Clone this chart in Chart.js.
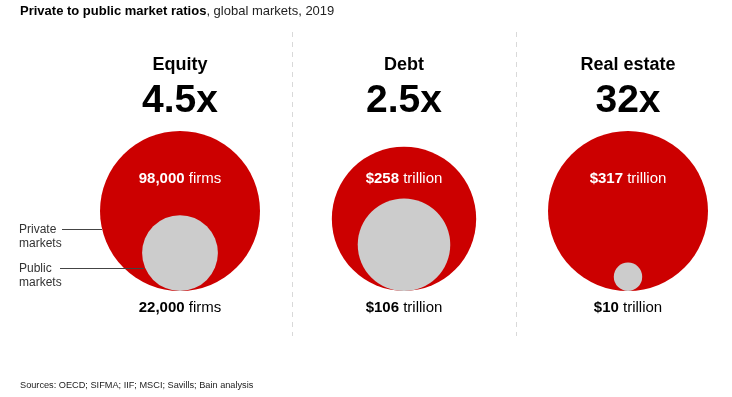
<!DOCTYPE html>
<html>
  <head>
    <title>Private to public market ratios</title>
    <script src="https://cdn.jsdelivr.net/npm/chart.js@4.4.1/dist/chart.umd.min.js"></script>
    <style>
      body { margin: 0; background: #fff; }
      #wrap { width: 732px; height: 397px; }
    </style>
  </head>
  <body>
    <div id="wrap"><canvas id="myChart"></canvas></div>
  </body>
  <script>
    const categories = ['Equity', 'Debt', 'Real estate']
    const ratioLabels = ['4.5x', '2.5x', '32x']
    const privateValues = [98000, 258, 317]
    const publicValues = [22000, 106, 10]
    const valuePrefix = ['', '$', '$']
    const valueUnits = ['firms', 'trillion', 'trillion']
    // value drawn at full radius in each panel (equity counts firms, others are $ trillion)
    const fullSizeValue = [98000, 317, 317]

    const RED = '#cc0000'
    const GREY = '#cccccc'
    const FONT = '"Liberation Sans", Arial, sans-serif'

    // panel centres are 2.8 radius-units apart; circles sit on y = 0
    const panelX = categories.map((c, i) => i * 2.8)
    const rel = (v, i) => Math.sqrt(v / fullSizeValue[i])

    const privatePoints = privateValues.map((v, i) => ({ x: panelX[i], y: rel(v, i), r: rel(v, i) }))
    const publicPoints = publicValues.map((v, i) => ({ x: panelX[i], y: rel(v, i), r: rel(v, i) }))

    // radius given in axis units, converted through the x scale
    const radiusFromScale = (ctx) => {
      const s = ctx.chart.scales.x
      const p = ctx.raw
      if (!s || !p) return 0
      return Math.abs(s.getPixelForValue(p.r) - s.getPixelForValue(0))
    }

    function fmt(n) {
      return n.toLocaleString('en-US')
    }

    function mixedText(ctx, parts, x, y, size) {
      // parts: [[text, bold], ...] centred on x
      let total = 0
      const widths = parts.map(([t, b]) => {
        ctx.font = (b ? 'bold ' : '') + size + 'px ' + FONT
        const w = ctx.measureText(t).width
        total += w
        return w
      })
      let cx = x - total / 2
      ctx.textAlign = 'left'
      parts.forEach(([t, b], i) => {
        ctx.font = (b ? 'bold ' : '') + size + 'px ' + FONT
        ctx.fillText(t, cx, y)
        cx += widths[i]
      })
    }

    const decorations = {
      id: 'decorations',
      beforeDatasetsDraw(chart) {
        const { ctx, scales: { x } } = chart
        ctx.save()
        // dashed separators between panels
        ctx.strokeStyle = '#d9d9d9'
        ctx.lineWidth = 1
        ctx.setLineDash([5, 5])
        for (let i = 0; i < panelX.length - 1; i++) {
          const sx = Math.round(x.getPixelForValue((panelX[i] + panelX[i + 1]) / 2)) + 0.5
          ctx.beginPath()
          ctx.moveTo(sx, 32)
          ctx.lineTo(sx, 336)
          ctx.stroke()
        }
        ctx.restore()
      },
      afterDatasetsDraw(chart) {
        const { ctx, scales: { x } } = chart
        ctx.save()
        // leader lines for the equity panel
        ctx.strokeStyle = '#444'
        ctx.lineWidth = 1
        ctx.beginPath()
        ctx.moveTo(62, 229.5)
        ctx.lineTo(102, 229.5)
        ctx.moveTo(60, 268.5)
        ctx.lineTo(144, 268.5)
        ctx.stroke()

        ctx.textBaseline = 'alphabetic'
        ctx.fillStyle = '#000'
        // title
        ctx.textAlign = 'left'
        ctx.font = 'bold 13px ' + FONT
        const t1 = 'Private to public market ratios'
        ctx.fillText(t1, 20, 15)
        const w1 = ctx.measureText(t1).width
        ctx.font = '13px ' + FONT
        ctx.fillStyle = '#222'
        ctx.fillText(', global markets, 2019', 20 + w1, 15)

        categories.forEach((c, i) => {
          const cx = x.getPixelForValue(panelX[i])
          ctx.fillStyle = '#000'
          ctx.textAlign = 'center'
          ctx.font = 'bold 18px ' + FONT
          ctx.fillText(c, cx, 70)
          ctx.font = 'bold 39px ' + FONT
          ctx.fillText(ratioLabels[i], cx, 112)
          ctx.fillStyle = '#fff'
          mixedText(ctx, [[valuePrefix[i] + fmt(privateValues[i]), true], [' ' + valueUnits[i], false]], cx, 183, 15)
          ctx.fillStyle = '#000'
          mixedText(ctx, [[valuePrefix[i] + fmt(publicValues[i]), true], [' ' + valueUnits[i], false]], cx, 312, 15)
        })

        // annotation labels
        ctx.fillStyle = '#333'
        ctx.textAlign = 'left'
        ctx.font = '12px ' + FONT
        ctx.fillText('Private', 19, 233)
        ctx.fillText('markets', 19, 247)
        ctx.fillText('Public', 19, 272)
        ctx.fillText('markets', 19, 286)

        ctx.font = '9.2px ' + FONT
        ctx.fillStyle = '#222'
        ctx.fillText('Sources: OECD; SIFMA; IIF; MSCI; Savills; Bain analysis', 20, 388)
        ctx.restore()
      },
    }

    const ctx = document.getElementById('myChart').getContext('2d')
    const myChart = new Chart(ctx, {
      type: 'scatter',
      data: {
        datasets: [
          {
            label: 'Public markets',
            data: publicPoints,
            backgroundColor: GREY,
            borderWidth: 0,
            pointRadius: radiusFromScale,
            pointHoverRadius: radiusFromScale,
          },
          {
            label: 'Private markets',
            data: privatePoints,
            backgroundColor: RED,
            borderWidth: 0,
            pointRadius: radiusFromScale,
            pointHoverRadius: radiusFromScale,
          },
        ],
      },
      options: {
        responsive: true,
        maintainAspectRatio: false,
        animation: false,
        layout: { padding: 0 },
        scales: {
          // 80 px per unit; panel 0 centre at 180 px, baseline at 291 px
          x: { display: false, min: -2.25, max: -2.25 + 732 / 80 },
          y: { display: false, min: 291 / 80 - 397 / 80, max: 291 / 80 },
        },
        plugins: {
          legend: { display: false },
          tooltip: { enabled: false },
        },
      },
      plugins: [decorations],
    })
  </script>
</html>
